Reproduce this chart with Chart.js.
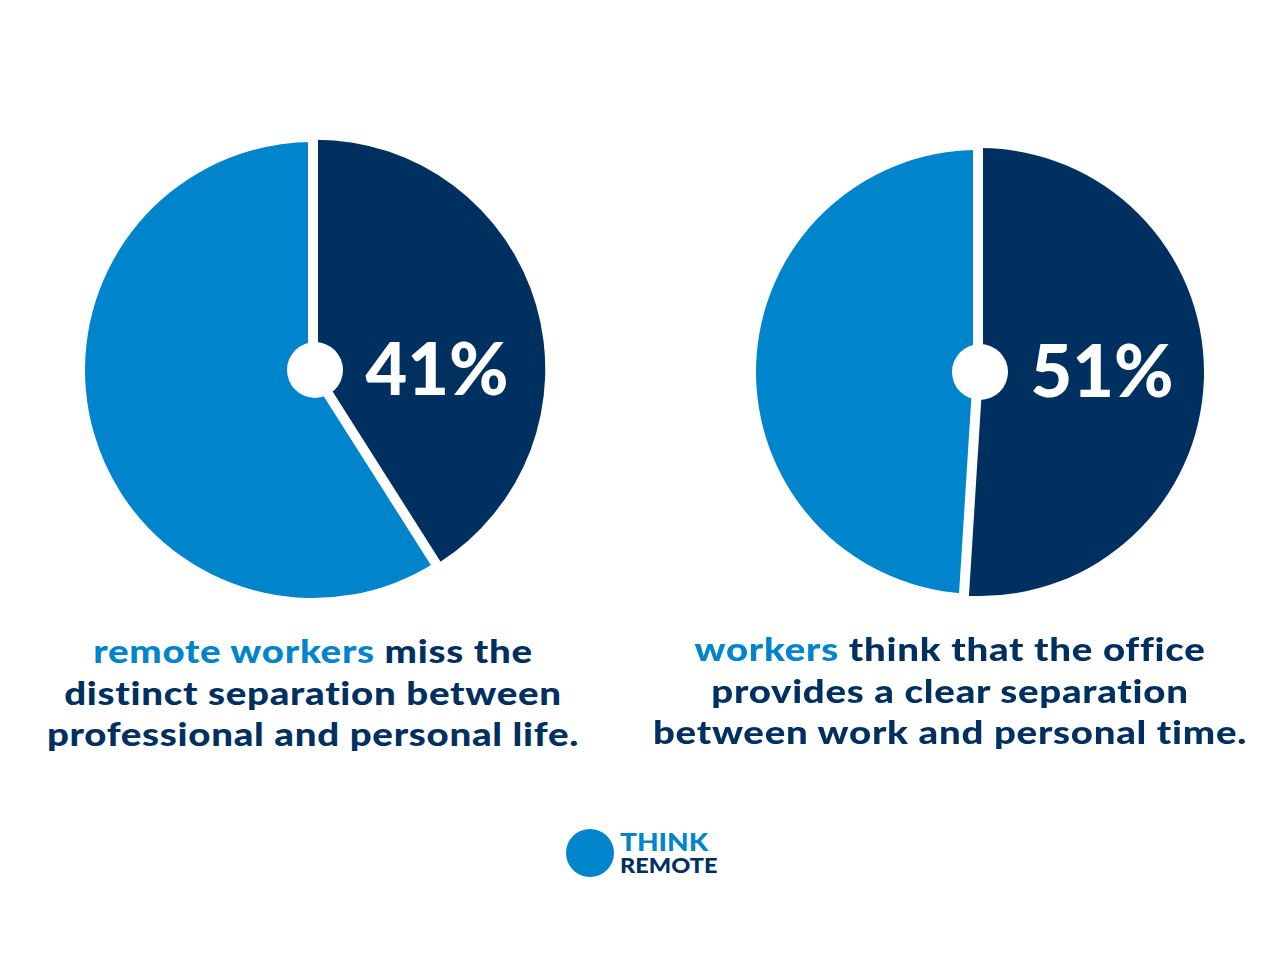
<!DOCTYPE html>
<html><head><meta charset="utf-8">
<script src="https://cdn.jsdelivr.net/npm/chart.js@4"></script>
<style>
body{margin:0;width:1280px;height:960px;background:#fff;position:relative;overflow:hidden;font-family:Lato,"Open Sans",sans-serif;}
.c{position:absolute;width:520px;height:520px;}
.cap{position:absolute;text-align:center;font-weight:900;font-size:32px;line-height:41.5px;color:#00305f;width:640px;letter-spacing:0.6px;transform:scaleX(1.2);transform-origin:center}
.cap b{color:#0085cc;font-weight:900}
</style></head><body>
<div class="c" style="left:53px;top:110px"><canvas id="p1" width="520" height="520"></canvas></div>
<div class="c" style="left:718px;top:112px"><canvas id="p2" width="520" height="520"></canvas></div>
<div class="cap" style="left:-7px;top:630px"><b>remote workers</b> miss the<br>distinct separation between<br>professional and personal life.</div>
<div class="cap" style="left:630px;top:628px"><b>workers</b> think that the office<br>provides a clear separation<br>between work and personal time.</div>
<div style="position:absolute;left:566px;top:829px;width:48px;height:48px;border-radius:50%;background:#0085cc"></div>
<div style="position:absolute;left:620px;top:830px;font-weight:900;font-size:25px;line-height:22px;color:#0085cc;transform:scaleX(1.12);transform-origin:left">THINK<br><span style="color:#00305f;font-size:21px">REMOTE</span></div>
<script>
const labels1=["Miss separation","Other"];
const values1=[41,59];
const labels2=["Office provides separation","Other"];
const values2=[51,49];
const pctLabels=["41%","51%"];
const dark="#00305f", light="#0085cc";
function mk(id,labels,values,radius,off,txt){
  new Chart(document.getElementById(id),{type:'pie',
    data:{labels,datasets:[{data:values,backgroundColor:[dark,light],borderWidth:[0,0],offset:[off,0]}]},
    options:{responsive:false,animation:false,radius:radius,events:[],
      plugins:{legend:{display:false},tooltip:{enabled:false}}},
    plugins:[{id:'ctr',afterDatasetsDraw(c){const x=c.ctx;const a=c.getDatasetMeta(0).data[1];const cx=a.x,cy=a.y;
      x.save();
      x.strokeStyle='#fff';x.lineWidth=10;
      [a.startAngle,a.endAngle].forEach(t=>{x.beginPath();x.moveTo(cx,cy);x.lineTo(cx+Math.cos(t)*(radius+20),cy+Math.sin(t)*(radius+20));x.stroke();});
      x.fillStyle='#fff';x.beginPath();x.arc(cx+2,cy,28,0,Math.PI*2);x.fill();
      x.font='900 72px Lato';x.textAlign='center';x.textBaseline='middle';x.fillText(txt,cx+124,cy+2);
      x.restore();}}]});
}
mk('p1',labels1,values1,228,12,pctLabels[0]);
mk('p2',labels2,values2,222,8,pctLabels[1]);
</script></body></html>
